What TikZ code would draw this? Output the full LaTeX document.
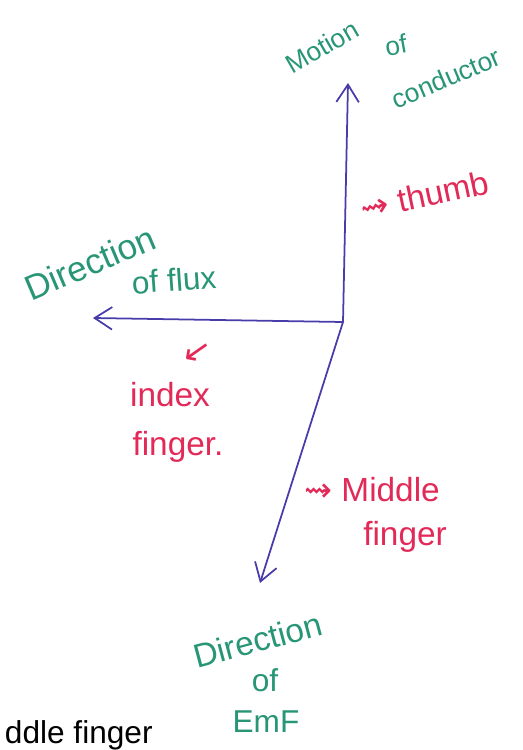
\documentclass[tikz,border=0pt]{standalone}
\usepackage{fontspec}
\setmainfont{Liberation Sans}
\newfontfamily\symfont{DejaVu Sans}
\usetikzlibrary{arrows.meta}
\definecolor{inkblue}{RGB}{72,60,170}
\definecolor{inkgreen}{RGB}{40,150,118}
\definecolor{inkred}{RGB}{226,42,88}
\tikzset{
  vec/.style={draw=inkblue, line width=1pt, -{Straight Barb[length=3.5mm,width=4.5mm]}},
  greenlbl/.style={text=inkgreen, inner sep=0pt, font=\fontsize{18}{20}\selectfont},
  redlbl/.style={text=inkred, inner sep=0pt, font=\fontsize{19}{21}\selectfont}
}
\begin{document}
\begin{tikzpicture}[x=0.02cm,y=-0.02cm]
        \useasboundingbox (0,0) rectangle (522,750);
        % the three directions
        \coordinate (O) at (343,322);
        \coordinate (up) at (348,83);
        \coordinate (left) at (93,318);
        \coordinate (down) at (260,583);
        \draw[vec] (O) -- (up);
        \draw[vec] (O) -- (left);
        \draw[vec] (O) -- (down);
        % thumb
        \node[greenlbl, rotate=30, font=\fontsize{15}{17}\selectfont] (motion) at (322,47) {Motion};
        \node[greenlbl, rotate=10, font=\fontsize{15}{17}\selectfont] (motionof) at (396,45) {of};
        \node[greenlbl, rotate=23, font=\fontsize{15}{17}\selectfont] (conductor) at (446,78) {conductor};
        \node[redlbl, rotate=12] (thumb) at (425,195) {{\symfont ⇝} thumb};
        % index finger
        \node[greenlbl, rotate=23, font=\fontsize{20}{22}\selectfont] (flux) at (90,263) {Direction};
        \node[greenlbl, rotate=4] (fluxof) at (174,280) {of flux};
        \node[redlbl, rotate=-10] (idxarrow) at (197,352) {\symfont ↙};
        \node[redlbl] (index) at (170,395) {index};
        \node[redlbl] (indexf) at (178,447) {finger.};
        % middle finger
        \node[redlbl] (middle) at (372,490) {{\symfont ⇝} Middle};
        \node[redlbl] (middlef) at (405,537) {finger};
        \node[greenlbl, rotate=15, font=\fontsize{19}{21}\selectfont] (emf) at (258,640) {Direction};
        \node[greenlbl] (emfof) at (265,680) {of};
        \node[greenlbl] (emfname) at (266,722) {EmF};
        % left over from the page below
        \node[text=black, inner sep=0pt, font=\fontsize{18}{20}\selectfont, anchor=east] (rest) at (153,735) {ddle finger};
    \end{tikzpicture}
\end{document}
